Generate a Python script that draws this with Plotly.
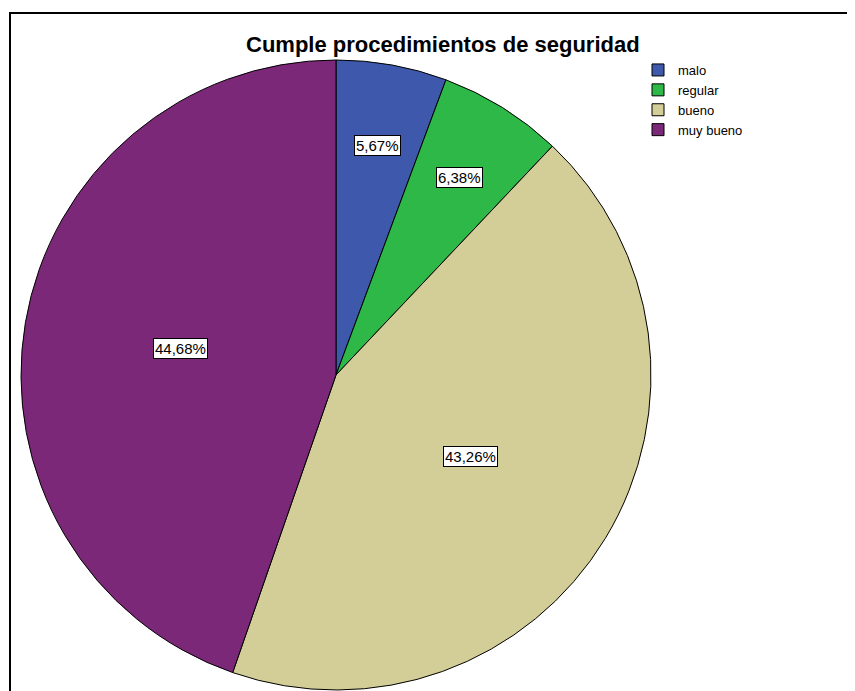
import math
import plotly.graph_objects as go

title = "Cumple procedimientos de seguridad"
categories = ["malo", "regular", "bueno", "muy bueno"]
counts = [8, 9, 61, 63]
colors = ["#3E58AC", "#2EB848", "#D3CE97", "#7B2878"]

W, H = 855, 691
OFF = 8  # page body margin compensation

def fx(px):
    return (px - OFF) / W

def fy(py):
    return 1 - (py - OFF) / H

# pie placement (page pixels)
px0, px1 = 21, 651
py_top, py_bot = 60, 690
dom_x = [fx(px0), fx(px1)]
dom_y = [fy(py_bot), fy(py_top)]

total = sum(counts)
shares = [c / total for c in counts]
texts = [("%.2f%%" % (s * 100)).replace(".", ",") for s in shares]

fig = go.Figure()
fig.add_trace(go.Pie(
    labels=categories, values=counts, sort=False, direction="clockwise",
    rotation=0, textinfo="none", hoverinfo="label+percent",
    marker=dict(colors=colors, line=dict(color="#000000", width=1)),
    domain=dict(x=dom_x, y=dom_y),
))

# percentage labels placed at slice mid-angles
cx = (px0 + px1) / 2
cy = (py_top + py_bot) / 2
R = (px1 - px0) / 2
cum = 0.0
annotations = []
for s, t in zip(shares, texts):
    mid = (cum + s / 2) * 2 * math.pi
    cum += s
    rf = 0.74 if s < 0.1 else 0.5
    x = cx + rf * R * math.sin(mid)
    y = cy - rf * R * math.cos(mid)
    annotations.append(dict(
        x=fx(x), y=fy(y), xref="paper", yref="paper", text=t, showarrow=False,
        font=dict(family="Liberation Sans, Arial", size=15, color="#000000"),
        bgcolor="#FFFFFF", bordercolor="#000000", borderwidth=1, borderpad=1,
        xanchor="center", yanchor="middle",
    ))

annotations.append(dict(
    x=fx(443), y=fy(45), xref="paper", yref="paper", text="<b>" + title + "</b>",
    showarrow=False, font=dict(family="Liberation Sans, Arial", size=22, color="#000000"),
    xanchor="center", yanchor="middle",
))

fig.update_layout(
    width=W, height=H, margin=dict(l=0, r=0, t=0, b=0),
    paper_bgcolor="#FFFFFF", plot_bgcolor="#FFFFFF",
    annotations=annotations,
    showlegend=True,
    legend=dict(x=fx(638), y=fy(55), xanchor="left", yanchor="top",
                font=dict(family="Liberation Sans, Arial", size=13, color="#000000"),
                itemwidth=30, tracegroupgap=0, bgcolor="rgba(0,0,0,0)"),
    shapes=[dict(type="rect", xref="paper", yref="paper",
                 x0=fx(10), x1=1.05, y0=-0.05, y1=fy(13),
                 line=dict(color="#000000", width=2), layer="below")],
)

fig.write_html("out.html")
